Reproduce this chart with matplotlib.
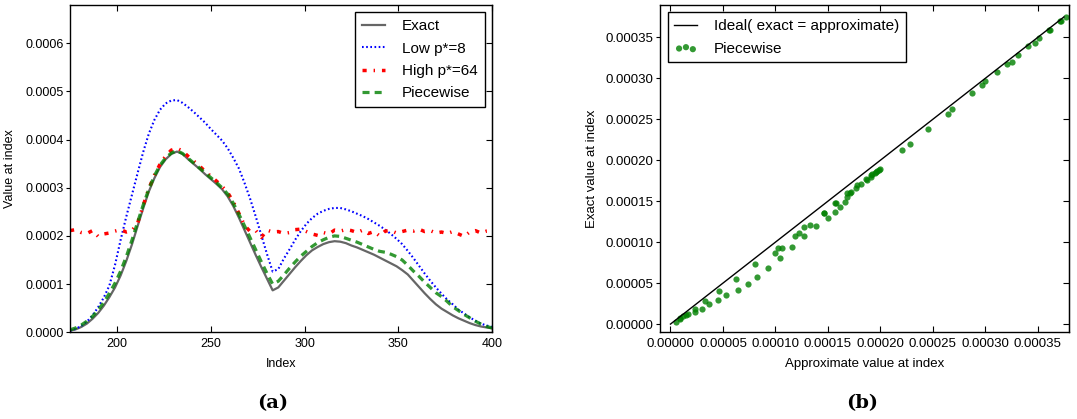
import numpy as np
import matplotlib.pyplot as plt
from matplotlib.ticker import FormatStrFormatter

plt.rcParams['font.family'] = ['Liberation Sans', 'DejaVu Sans']

# sample index (every 3rd point)
index = np.arange(175, 401, 3)

# values in units of 1e-6
exact = [3, 6, 11, 18, 28, 40, 55, 73, 93, 118,
         148, 182, 220, 257, 292, 320, 343, 359, 370, 375,
         370, 359, 349, 339, 328, 318, 308, 297, 282, 262,
         238, 212, 186, 160, 135, 111, 87, 93, 107, 121,
         135, 148, 160, 170, 177, 183, 187, 189, 188, 185,
         180, 176, 171, 166, 161, 155, 149, 143, 137, 129,
         120, 107, 94, 81, 69, 58, 49, 42, 35, 29,
         24, 19, 15, 12, 10, 8]

low_p8 = [3, 7, 13, 22, 35, 52, 72, 97, 140, 192,
          240, 285, 330, 374, 412, 441, 462, 475, 481, 482,
          476, 467, 457, 446, 435, 422, 410, 398, 382, 362,
          340, 310, 277, 240, 201, 162, 126, 131, 153, 172,
          192, 210, 225, 237, 246, 252, 256, 258, 258, 255,
          251, 246, 241, 235, 228, 221, 213, 204, 194, 183,
          169, 154, 138, 122, 107, 93, 80, 68, 58, 47,
          39, 31, 24, 18, 14, 11]

high_p64 = [211, 213, 207, 205, 211, 199, 204, 206, 210, 213,
            208, 211, 226, 263, 298, 326, 349, 366, 378, 382,
            376, 365, 355, 345, 334, 324, 314, 303, 290, 271,
            247, 222, 209, 211, 197, 212, 208, 209, 205, 207,
            213, 214, 209, 204, 201, 207, 204, 212, 210, 213,
            211, 207, 212, 205, 209, 200, 210, 211, 206, 209,
            212, 210, 214, 209, 211, 206, 208, 205, 209, 204,
            199, 208, 211, 206, 210, 211]

piecewise = [5, 9, 15, 23, 33, 46, 62, 81, 102, 127,
             157, 191, 228, 264, 297, 325, 347, 362, 372, 377,
             371, 361, 351, 341, 331, 321, 311, 300, 287, 268,
             245, 221, 196, 171, 146, 122, 100, 106, 119, 133,
             146, 158, 168, 178, 186, 192, 197, 200, 199, 195,
             191, 187, 182, 177, 172, 168, 166, 162, 157, 150,
             139, 127, 116, 104, 93, 82, 74, 64, 53, 45,
             37, 30, 23, 17, 12, 9]

exact = np.array(exact) * 1e-6
low_p8 = np.array(low_p8) * 1e-6
high_p64 = np.array(high_p64) * 1e-6
piecewise = np.array(piecewise) * 1e-6

fig = plt.figure(figsize=(10.77, 4.19), dpi=100)
ax1 = fig.add_axes([0.065, 0.207, 0.392, 0.782])
ax2 = fig.add_axes([0.6128, 0.207, 0.380, 0.782])

# (a) curves
ax1.plot(index, exact, color='0.4', lw=1.6, label='Exact')
ax1.plot(index, low_p8, color='b', lw=1.5, dashes=(0.8, 1.2), label='Low p*=8')
ax1.plot(index, high_p64, color='r', lw=2.5, dashes=(1.2, 2.0, 0.4, 2.0), label='High p*=64')
ax1.plot(index, piecewise, color='g', alpha=0.8, lw=2.3, dashes=(2.2, 1.6), label='Piecewise')
ax1.set_xlim(175, 400)
ax1.set_ylim(0, 0.00068)
ax1.set_xticks([200, 250, 300, 350, 400])
ax1.set_yticks(np.arange(0, 0.00061, 0.0001))
ax1.yaxis.set_major_formatter(FormatStrFormatter('%.4f'))
ax1.set_xlabel('Index', fontsize=9)
ax1.set_ylabel('Value at index', fontsize=9)
ax1.xaxis.set_label_coords(0.5, -0.0775)
ax1.yaxis.set_label_coords(-0.129, 0.5)
ax1.legend(loc='upper right', fontsize=11, frameon=True, fancybox=False,
           edgecolor='black', handlelength=1.5, handletextpad=1.1,
           labelspacing=0.55, borderpad=0.45, framealpha=1)

# (b) scatter
top = exact.max()
ax2.plot([0, top], [0, top], color='k', lw=1, label='Ideal( exact = approximate)')
ax2.scatter(piecewise, exact, s=20, color='g', alpha=0.8, linewidths=0, label='Piecewise')
ax2.set_xlim(-0.00001, 0.00038)
ax2.set_ylim(-0.00001, 0.00039)
ax2.set_xticks(np.arange(0, 0.000351, 0.00005))
ax2.set_yticks(np.arange(0, 0.000351, 0.00005))
ax2.xaxis.set_major_formatter(FormatStrFormatter('%.5f'))
ax2.yaxis.set_major_formatter(FormatStrFormatter('%.5f'))
ax2.set_xlabel('Approximate value at index', fontsize=9.5)
ax2.set_ylabel('Exact value at index', fontsize=9.5)
ax2.xaxis.set_label_coords(0.5, -0.0775)
ax2.yaxis.set_label_coords(-0.152, 0.5)
ax2.legend(loc='upper left', fontsize=11, frameon=True, fancybox=False,
           edgecolor='black', handlelength=1.5, handletextpad=1.1,
           labelspacing=0.55, borderpad=0.45, framealpha=1,
           scatterpoints=3, scatteryoffsets=[0.375, 0.5, 0.3125])

for ax, fs in ((ax1, 9), (ax2, 9.5)):
    ax.tick_params(axis='x', direction='in', top=True, length=4, pad=4, labelsize=fs)
    ax.tick_params(axis='y', direction='out', right=False, length=3, pad=1.5, labelsize=fs)
    sec = ax.secondary_yaxis('right')
    sec.set_yticks(ax.get_yticks())
    sec.tick_params(direction='in', length=4, labelright=False)
    for sp in ax.spines.values():
        sp.set_linewidth(1)

fig.text(0.2535, 0.038, '(a)', ha='center', va='center', fontsize=14,
         fontweight='bold', family='DejaVu Serif')
fig.text(0.8004, 0.038, '(b)', ha='center', va='center', fontsize=14,
         fontweight='bold', family='DejaVu Serif')

fig.savefig('out.png', dpi=100, facecolor='white')
